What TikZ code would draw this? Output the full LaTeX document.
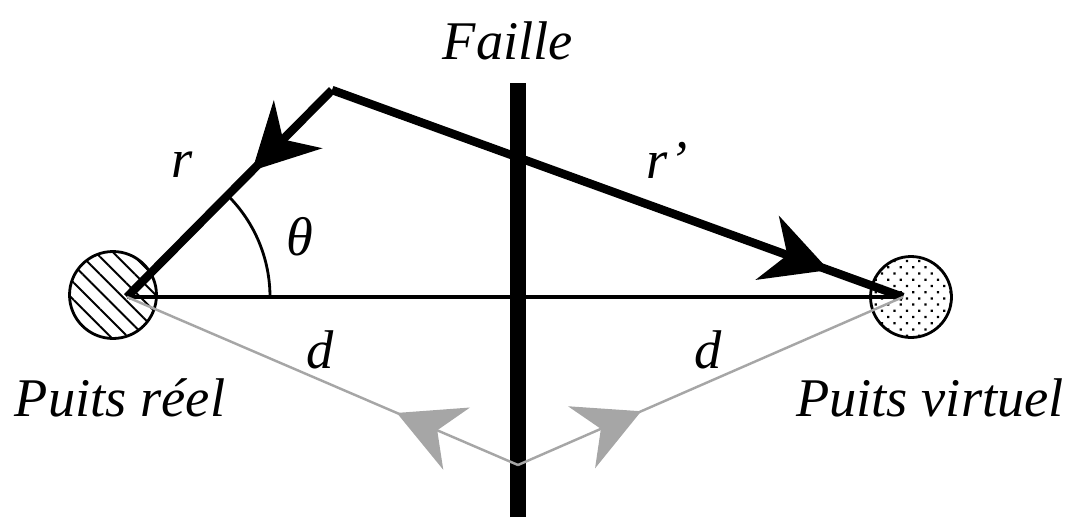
\documentclass[tikz,border=0pt]{standalone}
\usepackage{fontspec}
\setmainfont{Liberation Serif}
\usetikzlibrary{arrows.meta,decorations.markings,patterns.meta}

\tikzset{
  lbl/.style={font=\fontsize{31}{37}\selectfont\itshape, inner sep=0pt},
  puits/.style={circle, draw, line width=1.6pt, inner sep=0pt},
  fleche/.tip={Stealth[length=1.3cm,width=1.35cm,inset=0.42cm]},
  midfleche/.style={postaction={decorate},
    decoration={markings, mark=at position #1 with {\arrow{fleche}}}},
  rayon/.style={line width=4.8pt, line join=miter},
  miroir/.style={line width=1.4pt, black!35}
}

\begin{document}
\begin{tikzpicture}[x=0.02cm,y=0.02cm]
        \useasboundingbox (0,0) rectangle (1071,522);
        \coordinate (W) at (127,225);
        \coordinate (V) at (903,225);
        \coordinate (A) at (332,432);
        \coordinate (G) at (518,57);
        \coordinate (F1) at (518,5);
        \coordinate (F2) at (518,439);

        \node[puits, minimum size=1.74cm,
          pattern={Lines[angle=-45,distance=7pt,line width=1.1pt]}] (PR) at (113,227) {};
        \node[puits, minimum size=1.62cm,
          pattern={Dots[angle=45,distance=5pt,radius=0.9pt]}] (PV) at (911,225) {};

        \draw[line width=2.3pt] (W) -- (V);
        \draw[line width=9pt] (F1) -- (F2);
        \draw[rayon, midfleche=0.39] (A) -- (W);
        \draw[rayon, midfleche=0.87] (A) -- (V);
        \draw[miroir, midfleche=0.31] (G) -- (W);
        \draw[miroir, midfleche=0.32] (G) -- (V);

        %
        \draw[line width=1.6pt] (W) ++(143,0) arc[start angle=0, end angle=45, radius=143];

        \node[lbl] (faille) at (508,481) {Faille};
        \node[lbl] (r) at (182,357) {r};
        \node[lbl] (theta) at (300,285) {θ};
        \node[lbl] (rp) at (667,362) {r’};
        \node[lbl] (d1) at (320,172) {d};
        \node[lbl] (d2) at (708,172) {d};
        \node[lbl] (reel) at (120,124) {Puits réel};
        \node[lbl] (virt) at (930,124) {Puits virtuel};
    \end{tikzpicture}
\end{document}
